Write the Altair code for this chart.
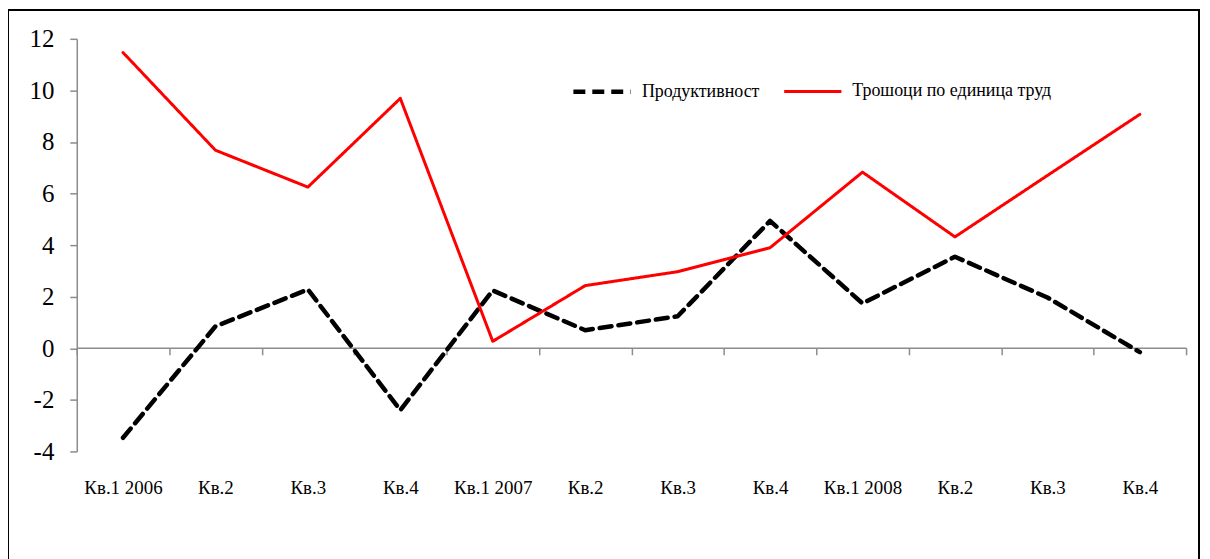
import altair as alt
import pandas as pd

quarters = ["Кв.1 2006", "Кв.2", "Кв.3", "Кв.4",
            "Кв.1 2007", "Кв.2 ", "Кв.3 ", "Кв.4 ",
            "Кв.1 2008", "Кв.2  ", "Кв.3  ", "Кв.4  "]
productivity = [-3.47, 0.85, 2.28, -2.40, 2.24, 0.70, 1.24, 4.94, 1.74, 3.55, 1.97, -0.15]
ulc = [11.47, 7.68, 6.25, 9.69, 0.27, 2.43, 2.97, 3.90, 6.83, 4.32, 6.70, 9.07]
series_names = ["Продуктивност", "Трошоци по единица труд"]
series_colors = ["#000000", "#ff0000"]
y_ticks = [-4, -2, 0, 2, 4, 6, 8, 10, 12]

rows = []
for q, p, u in zip(quarters, productivity, ulc):
    rows.append({"q": q, "series": series_names[0], "v": p})
    rows.append({"q": q, "series": series_names[1], "v": u})
df = pd.DataFrame(rows)

FONT = "'Liberation Serif', 'DejaVu Serif', serif"

lines = alt.Chart(df).mark_line(strokeCap="round", strokeJoin="round").encode(
    x=alt.X("q:N", sort=quarters, title=None,
            scale=alt.Scale(paddingInner=0, paddingOuter=0),
            axis=alt.Axis(labelAngle=0, offset=-104, tickBand="extent", tickSize=7,
                          domainColor="#8c8c8c", tickColor="#8c8c8c", domainWidth=1.5, tickWidth=1.5,
                          labelPadding=124, labelFont=FONT, labelFontSize=19,
                          labelFontWeight="normal", labelColor="#000")),
    y=alt.Y("v:Q", title=None,
            scale=alt.Scale(domain=[-4, 12], nice=False, zero=False),
            axis=alt.Axis(values=y_ticks, tickSize=7, labelPadding=16, grid=False,
                          labelExpr="'' + datum.value",
                          domainColor="#8c8c8c", tickColor="#8c8c8c", domainWidth=1.5, tickWidth=1.5,
                          labelFont=FONT, labelFontSize=25, labelFontWeight="normal", labelColor="#000")),
    color=alt.Color("series:N", scale=alt.Scale(domain=series_names, range=series_colors),
                    legend=alt.Legend(title=None, orient="none", legendX=496, legendY=22,
                                      direction="horizontal", symbolType="stroke",
                                      symbolSize=3300, symbolStrokeWidth=2,
                                      labelFont=FONT, labelFontSize=18, labelColor="#000",
                                      labelFontWeight="normal",
                                      labelLimit=0, labelOffset=9, columnPadding=17)),
    strokeDash=alt.StrokeDash("series:N", scale=alt.Scale(domain=series_names, range=[[12, 7], [1, 0]]),
                              legend=None),
    strokeWidth=alt.StrokeWidth("series:N", scale=alt.Scale(domain=series_names, range=[4.5, 3]),
                                legend=None),
)

frame = alt.Chart(pd.DataFrame({"a": [0]})).mark_rect(
    fill="transparent", stroke="#000", strokeWidth=2
).encode(x=alt.value(-69), x2=alt.value(1126), y=alt.value(-29), y2=alt.value(620))

chart = alt.layer(frame, lines).properties(
    width=1113, height=414,
    background="white",
    autosize=alt.AutoSizeParams(type="none"),
    padding={"left": 69, "top": 30, "right": 16, "bottom": 107},
).configure_view(stroke=None)

chart.save("out.html", embed_options={"renderer": "svg", "actions": False})
